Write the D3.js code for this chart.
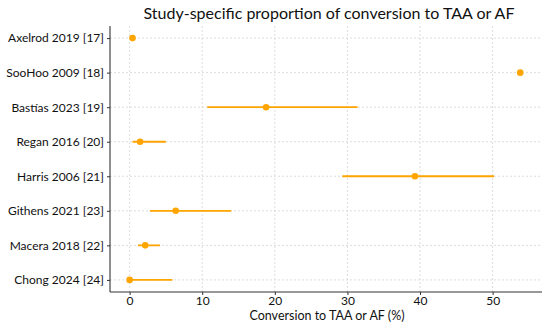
<!DOCTYPE html>
<html>
<head>
<meta charset="utf-8">
<script src="https://cdn.jsdelivr.net/npm/d3@7"></script>
<style>
  body { margin: 0; background: #fff; }
  svg { display: block; font-family: Lato, sans-serif; }
</style>
</head>
<body>
<svg id="chart" width="550" height="327"></svg>
<script>
const studies = [
  'Axelrod 2019 [17]',
  'SooHoo 2009 [18]',
  'Bastías 2023 [19]',
  'Regan 2016 [20]',
  'Harris 2006 [21]',
  'Githens 2021 [23]',
  'Macera 2018 [22]',
  'Chong 2024 [24]',
];
const proportion = [0.4, 53.8, 18.8, 1.45, 39.3, 6.35, 2.15, 0];
const lowerCI = [0.4, 53.8, 10.7, 0.4, 29.3, 2.8, 1.15, 0];
const upperCI = [0.4, 53.8, 31.4, 5.0, 50.2, 14.0, 4.2, 5.9];
const xTicks = [0, 10, 20, 30, 40, 50];

const margin = { top: 26, right: 8, bottom: 35, left: 110 };
const width = 550, height = 327;

const svg = d3.select('#chart');

const x = d3.scaleLinear()
  .domain([-2.7, 56.8])
  .range([margin.left, width - margin.right]);

const y = d3.scalePoint()
  .domain(studies)
  .range([margin.top, height - margin.bottom])
  .padding(0.35);

// grid
svg.append('g')
  .selectAll('line')
  .data(xTicks)
  .join('line')
  .attr('x1', (d) => x(d))
  .attr('x2', (d) => x(d))
  .attr('y1', margin.top)
  .attr('y2', height - margin.bottom)
  .attr('stroke', '#d4d4d4')
  .attr('stroke-width', 0.8)
  .attr('stroke-dasharray', '2,2');

svg.append('g')
  .selectAll('line')
  .data(studies)
  .join('line')
  .attr('x1', margin.left)
  .attr('x2', width - margin.right)
  .attr('y1', (d) => y(d))
  .attr('y2', (d) => y(d))
  .attr('stroke', '#d4d4d4')
  .attr('stroke-width', 0.8)
  .attr('stroke-dasharray', '2,2');

// axes
const xAxis = svg.append('g')
  .attr('transform', `translate(0,${height - margin.bottom})`)
  .call(d3.axisBottom(x).tickValues(xTicks).tickSize(3).tickPadding(1));

const yAxis = svg.append('g')
  .attr('transform', `translate(${margin.left},0)`)
  .call(d3.axisLeft(y).tickSize(3).tickPadding(3));

[xAxis, yAxis].forEach((ax) => {
  ax.select('.domain').attr('stroke', '#333').attr('stroke-width', 1.1);
  ax.selectAll('.tick line').attr('stroke', '#333');
  ax.selectAll('.tick text')
    .attr('fill', '#111')
    .style('font-size', '12px')
    .style('font-family', 'Lato, sans-serif');
});
xAxis.select('.domain').attr('d', `M${margin.left},0H${width - margin.right}`);
yAxis.select('.domain').attr('d', `M0,${margin.top}V${height - margin.bottom}`);

// CI lines and points
const rows = svg.append('g')
  .selectAll('g')
  .data(studies)
  .join('g');

rows.append('line')
  .attr('x1', (d, i) => x(lowerCI[i]))
  .attr('x2', (d, i) => x(upperCI[i]))
  .attr('y1', (d) => y(d))
  .attr('y2', (d) => y(d))
  .attr('stroke', '#FFA500')
  .attr('stroke-width', 1.8);

rows.append('circle')
  .attr('cx', (d, i) => x(proportion[i]))
  .attr('cy', (d) => y(d))
  .attr('r', 3.3)
  .attr('fill', '#FFA500');

// title and axis label
svg.append('text')
  .attr('x', 329)
  .attr('y', 19)
  .attr('text-anchor', 'middle')
  .style('font-size', '16px')
  .style('fill', '#111')
  .text('Study-specific proportion of conversion to TAA or AF');

svg.append('text')
  .attr('x', 327)
  .attr('y', 320)
  .attr('text-anchor', 'middle')
  .style('font-size', '12.5px')
  .style('fill', '#111')
  .text('Conversion to TAA or AF (%)');
</script>
</body>
</html>
